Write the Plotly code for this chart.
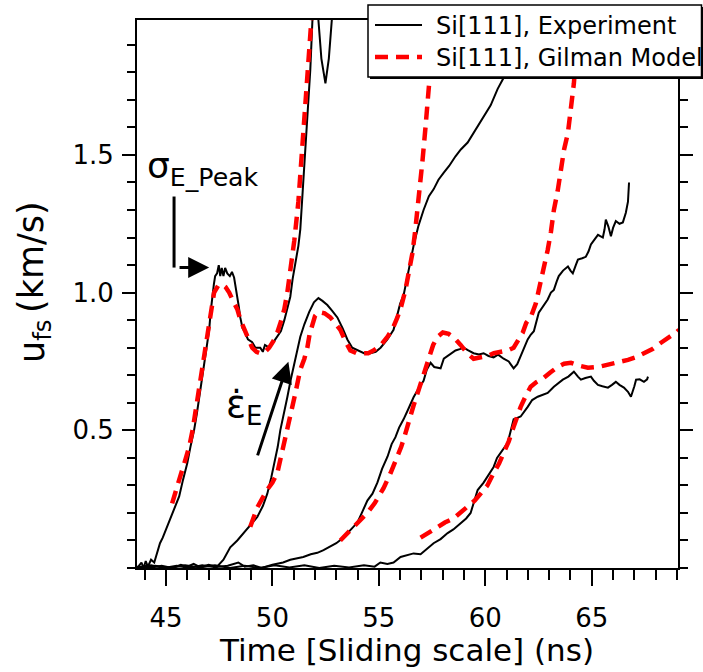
import plotly.graph_objects as go

# ---------------- data ----------------
exp1_x = [43.70, 43.85, 43.95, 44.05, 44.15, 44.30, 44.45, 44.60, 44.72, 44.85, 45.00, 45.19, 45.40, 45.62, 45.80,
          46.00, 46.15, 46.32, 46.45, 46.56, 46.68, 46.79, 46.92, 47.03, 47.10, 47.17, 47.25, 47.31, 47.40, 47.48,
          47.55, 47.62, 47.70, 47.78, 47.88, 48.00, 48.10, 48.20, 48.28, 48.35, 48.42, 48.49, 48.60, 48.72, 48.85,
          49.05, 49.20, 49.43, 49.55, 49.65, 49.85, 50.00, 50.23, 50.40, 50.56, 50.70, 50.84, 50.95, 51.08, 51.22,
          51.31, 51.45, 51.55, 51.64, 51.78, 51.88, 51.95, 52.10, 52.16, 52.30, 52.49, 52.65, 52.82, 52.90]
exp1_y = [0.005, 0.02, 0.0, 0.025, 0.005, 0.03, 0.02, 0.06, 0.09, 0.11, 0.14, 0.175, 0.22, 0.26, 0.32,
          0.38, 0.44, 0.50, 0.56, 0.62, 0.68, 0.745, 0.81, 0.865, 0.93, 0.985, 1.03, 1.06, 1.07, 1.10,
          1.06, 1.09, 1.06, 1.09, 1.07, 1.06, 1.075, 1.055, 1.02, 0.985, 0.95, 0.91, 0.87, 0.855, 0.83,
          0.82, 0.80, 0.80, 0.785, 0.81, 0.80, 0.815, 0.84, 0.86, 0.90, 0.94, 0.985, 1.05, 1.11, 1.17,
          1.23, 1.41, 1.52, 1.63, 1.81, 1.99, 2.10, 2.10, 1.99, 1.85, 1.76, 1.85, 1.99, 2.10]

mod1_x = [45.29, 45.45, 45.66, 45.90, 46.09, 46.25, 46.37, 46.50, 46.60, 46.72, 46.84, 46.94, 47.03, 47.15, 47.26,
          47.45, 47.64, 47.80, 47.97, 48.15, 48.35, 48.50, 48.68, 48.85, 49.05, 49.25, 49.43, 49.65, 49.85, 50.05,
          50.23, 50.40, 50.56, 50.70, 50.79, 50.93, 51.03, 51.22, 51.35, 51.45, 51.55, 51.64, 51.75, 51.83, 51.90]
mod1_y = [0.235, 0.28, 0.33, 0.39, 0.44, 0.50, 0.56, 0.62, 0.68, 0.74, 0.80, 0.86, 0.91, 0.96, 1.0,
          1.025, 1.03, 1.02, 1.0, 0.97, 0.94, 0.90, 0.865, 0.83, 0.80, 0.785, 0.78, 0.785, 0.80, 0.825,
          0.855, 0.895, 0.94, 1.0, 1.05, 1.145, 1.19, 1.33, 1.46, 1.57, 1.67, 1.77, 1.88, 1.99, 2.10]

exp2_x = [43.64, 44.20, 44.80, 45.30, 45.70, 46.00, 46.30, 46.60, 47.00, 47.40, 47.70, 48.02, 48.35, 48.68, 49.00,
          49.29, 49.55, 49.76, 49.95, 50.09, 50.25, 50.37, 50.55, 50.70, 50.85, 51.03, 51.15, 51.31, 51.50, 51.73,
          51.95, 52.16, 52.35, 52.58, 52.80, 53.05, 53.30, 53.52, 53.75, 53.99, 54.30, 54.60, 54.85, 55.08, 55.40,
          55.69, 55.87, 56.00, 56.16, 56.35, 56.50, 56.63, 56.85, 57.10, 57.35, 57.57, 57.80, 58.04, 58.30, 58.60,
          58.85, 59.17, 59.45, 59.78, 60.00, 60.25, 60.58, 60.86, 61.30, 61.80, 62.20]
exp2_y = [0.005, 0.0, 0.008, 0.0, 0.012, 0.005, 0.015, 0.003, 0.012, 0.005, 0.03, 0.075, 0.10, 0.13, 0.155,
          0.185, 0.225, 0.27, 0.33, 0.38, 0.44, 0.50, 0.56, 0.62, 0.68, 0.745, 0.79, 0.84, 0.885, 0.93,
          0.965, 0.98, 0.97, 0.955, 0.935, 0.91, 0.87, 0.83, 0.80, 0.79, 0.78, 0.78, 0.785, 0.80, 0.83,
          0.865, 0.92, 0.96, 0.99, 1.07, 1.12, 1.17, 1.24, 1.30, 1.35, 1.375, 1.41, 1.435, 1.46, 1.495,
          1.52, 1.545, 1.58, 1.62, 1.65, 1.68, 1.74, 1.78, 1.88, 1.98, 2.08]

mod2_x = [48.96, 49.29, 49.76, 50.00, 50.23, 50.40, 50.51, 50.70, 50.84, 51.00, 51.08, 51.20, 51.31, 51.50, 51.64,
          51.75, 51.88, 52.00, 52.16, 52.45, 52.72, 52.95, 53.19, 53.45, 53.66, 53.95, 54.28, 54.50, 54.75, 55.10,
          55.41, 55.65, 55.87, 56.05, 56.25, 56.40, 56.58, 56.70, 56.82, 56.95, 57.05, 57.19, 57.33, 57.43, 57.60,
          57.75]
mod2_y = [0.15, 0.22, 0.285, 0.31, 0.345, 0.40, 0.44, 0.50, 0.54, 0.60, 0.635, 0.68, 0.72, 0.76, 0.80,
          0.85, 0.89, 0.915, 0.93, 0.925, 0.91, 0.89, 0.865, 0.82, 0.79, 0.78, 0.78, 0.78, 0.79, 0.81,
          0.84, 0.87, 0.91, 0.95, 1.01, 1.07, 1.145, 1.22, 1.30, 1.39, 1.48, 1.60, 1.73, 1.80, 1.98,
          2.12]

exp3_x = [43.64, 44.30, 44.90, 45.50, 46.10, 46.70, 47.30, 47.90, 48.40, 48.70, 49.10, 49.50, 50.00, 50.50, 50.84,
          51.15, 51.45, 51.80, 52.11, 52.40, 52.72, 53.00, 53.33, 53.65, 53.99, 54.20, 54.46, 54.70, 54.93, 55.15,
          55.41, 55.60, 55.78, 55.95, 56.16, 56.40, 56.63, 56.85, 57.10, 57.25, 57.43, 57.60, 57.90, 58.05, 58.23,
          58.40, 58.60, 58.80, 58.98, 59.20, 59.45, 59.70, 59.92, 60.15, 60.39, 60.60, 60.86, 61.10, 61.33, 61.50,
          61.66, 61.80, 61.99, 62.13, 62.28, 62.51, 62.70, 62.93, 63.08, 63.22, 63.35, 63.45, 63.65, 63.88, 64.00,
          64.11, 64.25, 64.35, 64.55, 64.72, 64.85, 64.96, 65.10, 65.29, 65.40, 65.52, 65.60, 65.66, 65.78, 65.90,
          66.00, 66.13, 66.30, 66.46, 66.60, 66.70, 66.75]
exp3_y = [0.003, 0.01, 0.0, 0.008, 0.0, 0.01, 0.003, 0.008, 0.02, 0.005, 0.01, 0.0, 0.012, 0.02, 0.03,
          0.035, 0.04, 0.05, 0.055, 0.065, 0.077, 0.09, 0.11, 0.135, 0.165, 0.20, 0.245, 0.27, 0.31, 0.36,
          0.405, 0.45, 0.475, 0.51, 0.54, 0.58, 0.62, 0.65, 0.68, 0.72, 0.745, 0.73, 0.725, 0.76, 0.77,
          0.78, 0.79, 0.795, 0.80, 0.79, 0.78, 0.775, 0.78, 0.77, 0.765, 0.775, 0.76, 0.75, 0.725, 0.74,
          0.77, 0.80, 0.83, 0.847, 0.86, 0.927, 0.95, 0.975, 1.0, 1.01, 1.04, 1.06, 1.08, 1.095, 1.08,
          1.07, 1.10, 1.12, 1.125, 1.13, 1.15, 1.175, 1.19, 1.21, 1.205, 1.20, 1.23, 1.265, 1.24, 1.205,
          1.235, 1.26, 1.25, 1.255, 1.29, 1.33, 1.40]

mod3_x = [53.19, 53.50, 53.80, 54.10, 54.46, 54.80, 55.08, 55.22, 55.55, 55.87, 56.05, 56.25, 56.45, 56.63, 56.80,
          56.96, 57.15, 57.33, 57.55, 57.76, 58.00, 58.28, 58.55, 58.84, 59.15, 59.45, 59.80, 60.11, 60.40, 60.72,
          61.05, 61.33, 61.55, 61.76, 61.92, 62.13, 62.37, 62.60, 62.80, 62.93, 63.08, 63.22, 63.40, 63.55, 63.70,
          63.88, 64.05, 64.16, 64.30, 64.45]
mod3_y = [0.10, 0.125, 0.15, 0.175, 0.20, 0.235, 0.27, 0.29, 0.345, 0.40, 0.44, 0.49, 0.55, 0.59, 0.63,
          0.67, 0.72, 0.765, 0.81, 0.84, 0.855, 0.85, 0.835, 0.81, 0.78, 0.76, 0.765, 0.77, 0.78, 0.785,
          0.79, 0.80, 0.825, 0.855, 0.89, 0.91, 0.96, 1.035, 1.10, 1.155, 1.22, 1.30, 1.37, 1.45, 1.52,
          1.58, 1.70, 1.76, 1.90, 2.05]

exp4_x = [43.64, 44.50, 45.20, 45.90, 46.60, 47.30, 48.00, 48.70, 49.40, 50.10, 50.80, 51.50, 52.20, 52.90, 53.60,
          54.30, 54.80, 55.07, 55.40, 55.69, 56.02, 56.30, 56.63, 56.96, 57.20, 57.57, 57.90, 58.23, 58.50, 58.84,
          59.10, 59.31, 59.50, 59.64, 59.92, 60.15, 60.39, 60.55, 60.72, 61.05, 61.20, 61.33, 61.50, 61.66, 61.99,
          62.20, 62.46, 62.70, 62.93, 63.22, 63.40, 63.64, 63.90, 64.16, 64.35, 64.49, 64.70, 64.96, 65.10, 65.29,
          65.50, 65.76, 65.95, 66.13, 66.30, 66.51, 66.70, 66.84, 67.00, 67.08, 67.25, 67.45, 67.60, 67.64]
exp4_y = [0.0, 0.008, 0.0, 0.01, 0.002, 0.01, 0.0, 0.008, 0.0, 0.01, 0.002, 0.01, 0.0, 0.008, 0.002,
          0.01, 0.005, 0.02, 0.015, 0.02, 0.04, 0.045, 0.053, 0.05, 0.065, 0.09, 0.105, 0.127, 0.14, 0.163,
          0.18, 0.20, 0.25, 0.283, 0.31, 0.34, 0.367, 0.40, 0.418, 0.455, 0.50, 0.54, 0.545, 0.55, 0.585,
          0.61, 0.622, 0.63, 0.636, 0.658, 0.67, 0.684, 0.695, 0.713, 0.695, 0.684, 0.69, 0.695, 0.68, 0.665,
          0.66, 0.655, 0.665, 0.676, 0.665, 0.655, 0.64, 0.622, 0.66, 0.684, 0.685, 0.676, 0.685, 0.695]

mod4_x = [56.96, 57.35, 57.76, 58.10, 58.51, 58.84, 59.17, 59.50, 59.78, 60.10, 60.39, 60.65, 60.86, 61.10, 61.33,
          61.50, 61.66, 61.90, 62.13, 62.40, 62.74, 63.05, 63.40, 63.70, 64.02, 64.40, 64.82, 65.30, 65.76, 66.20,
          66.70, 67.10, 67.45, 67.85, 68.25, 68.60, 68.96, 69.10]
mod4_y = [0.11, 0.13, 0.15, 0.165, 0.18, 0.20, 0.222, 0.245, 0.27, 0.30, 0.345, 0.38, 0.418, 0.46, 0.513,
          0.55, 0.585, 0.625, 0.658, 0.675, 0.69, 0.71, 0.73, 0.742, 0.745, 0.735, 0.727, 0.73, 0.738, 0.745,
          0.756, 0.766, 0.78, 0.795, 0.818, 0.835, 0.855, 0.865]

x_tickvals = [45, 50, 55, 60, 65]
x_ticktext = ["45", "50", "55", "60", "65"]
y_tickvals = [0.5, 1.0, 1.5]
y_ticktext = ["0.5", "1.0", "1.5"]
legend_names = ["Si[111], Experiment", "Si[111], Gilman Model"]

# ---------------- figure ----------------
FONT = "DejaVu Sans"
BLACK = "black"
RED = "#ff0000"
W, H = 703, 672
ML, MR, MT, MB = 137, 25, 20, 104
PW, PH = W - ML - MR, H - MT - MB


def px_x(p):  # pixel column -> paper fraction
    return (p - ML) / PW


def px_y(p):  # pixel row -> paper fraction
    return (H - MB - p) / PH


fig = go.Figure()
exp_sets = [(exp1_x, exp1_y), (exp2_x, exp2_y), (exp3_x, exp3_y), (exp4_x, exp4_y)]
mod_sets = [(mod1_x, mod1_y), (mod2_x, mod2_y), (mod3_x, mod3_y), (mod4_x, mod4_y)]

for xs, ys in exp_sets:
    fig.add_trace(go.Scatter(x=xs, y=ys, mode="lines", name=legend_names[0], showlegend=False,
                             line=dict(color=BLACK, width=2)))
for xs, ys in mod_sets:
    fig.add_trace(go.Scatter(x=xs, y=ys, mode="lines", name=legend_names[1], showlegend=False,
                             line=dict(color=RED, width=4.5, dash="13px,8px")))

annotations = [
    dict(x=44.02, y=1.45, xref="x", yref="y", text="σ<sub>E_Peak</sub>", showarrow=False,
         font=dict(family=FONT, size=36, color="black"), xanchor="left", yanchor="middle"),
    dict(x=47.74, y=0.585, xref="x", yref="y", text="ε̇<sub>E</sub>", showarrow=False,
         font=dict(family=FONT, size=37, color="black"), xanchor="left", yanchor="middle"),
    # sigma arrow (horizontal part)
    dict(x=47.03, y=1.091, ax=45.38, ay=1.091, xref="x", yref="y", axref="x", ayref="y",
         text=" ", showarrow=True, arrowhead=2, arrowsize=1.4, arrowwidth=3, arrowcolor="black"),
    # strain-rate arrow
    dict(x=50.75, y=0.749, ax=49.05, ay=0.349, xref="x", yref="y", axref="x", ayref="y",
         text=" ", showarrow=True, arrowhead=2, arrowsize=1.4, arrowwidth=3, arrowcolor="black"),
    # y-axis title (two rotated parts)
    dict(x=px_x(31), y=px_y(257), xref="paper", yref="paper", text="(km/s)",
         textangle=-90, showarrow=False, font=dict(family=FONT, size=35, color="black"),
         xanchor="center", yanchor="middle"),
    dict(x=px_x(34), y=px_y(341), xref="paper", yref="paper", text="u<sub>fs</sub>",
         textangle=-90, showarrow=False, font=dict(family=FONT, size=35, color="black"),
         xanchor="center", yanchor="middle"),
    # x-axis title
    dict(x=0.499, y=px_y(650), xref="paper", yref="paper", text="Time [Sliding scale] (ns)",
         showarrow=False, font=dict(family=FONT, size=31, color="black"),
         xanchor="center", yanchor="middle"),
    # legend texts
    dict(x=px_x(434), y=px_y(26), xref="paper", yref="paper", text=legend_names[0],
         showarrow=False, font=dict(family=FONT, size=24, color="black"),
         xanchor="left", yanchor="middle"),
    dict(x=px_x(434), y=px_y(58), xref="paper", yref="paper", text=legend_names[1],
         showarrow=False, font=dict(family=FONT, size=24, color="black"),
         xanchor="left", yanchor="middle"),
]

shapes = [
    dict(type="line", xref="x", yref="y", x0=45.38, y0=1.349, x1=45.38, y1=1.091,
         line=dict(color="black", width=3)),
    # legend box: shadow, box, sample lines
    dict(type="rect", xref="paper", yref="paper", layer="above",
         x0=px_x(370), x1=px_x(704), y0=px_y(79), y1=px_y(7),
         fillcolor="black", line=dict(width=0)),
    dict(type="rect", xref="paper", yref="paper", layer="above",
         x0=px_x(368), x1=px_x(701.5), y0=px_y(77), y1=px_y(5),
         fillcolor="white", line=dict(color="black", width=1.5)),
    dict(type="line", xref="paper", yref="paper", layer="above",
         x0=px_x(375), x1=px_x(422), y0=px_y(25), y1=px_y(25),
         line=dict(color=BLACK, width=2)),
    dict(type="line", xref="paper", yref="paper", layer="above",
         x0=px_x(375), x1=px_x(422), y0=px_y(57), y1=px_y(57),
         line=dict(color=RED, width=4.5, dash="13px,8px")),
]

fig.update_layout(
    width=W, height=H, autosize=False,
    margin=dict(l=ML, r=MR, t=MT, b=MB, autoexpand=False),
    paper_bgcolor="white", plot_bgcolor="white",
    font=dict(family=FONT, size=26, color="black"),
    showlegend=False,
    annotations=annotations,
    shapes=shapes,
    xaxis=dict(range=[43.64, 69.05], showgrid=False, zeroline=False,
               showline=True, linecolor="black", linewidth=2, mirror=True,
               ticks="outside", ticklen=16, tickwidth=2, tickcolor="black",
               tickvals=x_tickvals, ticktext=x_ticktext, automargin=False, ticklabelstandoff=10,
               tickfont=dict(family=FONT, size=26, color="black"),
               minor=dict(dtick=1, ticks="outside", ticklen=10, tickwidth=2, tickcolor="black", showgrid=False)),
    yaxis=dict(range=[0, 1.99], showgrid=False, zeroline=False,
               showline=True, linecolor="black", linewidth=2, mirror="ticks",
               ticks="outside", ticklen=13, tickwidth=2, tickcolor="black",
               tickvals=y_tickvals, ticktext=y_ticktext, ticklabelstandoff=3, automargin=False,
               tickfont=dict(family=FONT, size=26, color="black"),
               minor=dict(dtick=0.1, tick0=0, ticks="outside", ticklen=8, tickwidth=2, tickcolor="black", showgrid=False)),
)

fig.write_html("out.html", config={"displayModeBar": False},
               post_script="document.body.style.margin='0px';")
